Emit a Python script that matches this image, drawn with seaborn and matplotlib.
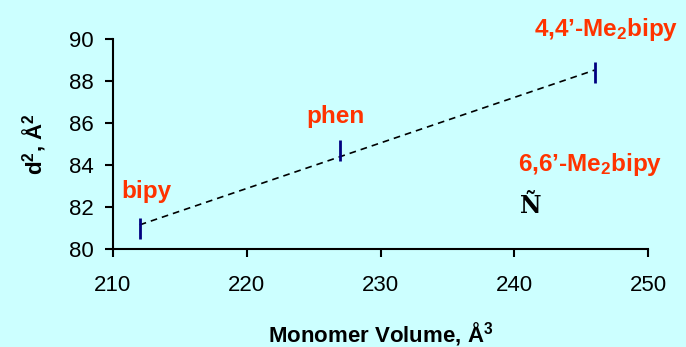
import matplotlib
matplotlib.use("Agg")
import matplotlib.pyplot as plt
import seaborn as sns
import numpy as np
import pandas as pd

# Data
ligands = ["bipy", "phen", "4,4'-Me2bipy"]
volume = [212, 227, 246]
d2 = [81.0, 84.67, 88.4]
d2_err = [0.5, 0.5, 0.5]
xticks = [210, 220, 230, 240, 250]
yticks = [80, 82, 84, 86, 88, 90]

bg = "#CCFFFF"
red = "#FF3300"

sns.set_theme(style="ticks")
plt.rcParams['font.family'] = ['Liberation Sans', 'DejaVu Sans']
plt.rcParams['mathtext.fontset'] = 'custom'
plt.rcParams['mathtext.rm'] = 'Liberation Sans'
plt.rcParams['mathtext.bf'] = 'Liberation Sans:bold'
plt.rcParams['mathtext.it'] = 'Liberation Sans:italic'

fig = plt.figure(figsize=(6.86, 3.47), dpi=100, facecolor=bg)
ax = fig.add_axes([0.1647, 0.2824, 0.78, 0.6052])
ax.set_facecolor(bg)

df = pd.DataFrame({"volume": volume, "d2": d2})
sns.regplot(data=df, x="volume", y="d2", ax=ax, scatter=False, ci=None,
            line_kws=dict(color="black", lw=1.2, ls=(0, (4, 3))))
ax.errorbar(volume, d2, yerr=d2_err, fmt="none", ecolor="#000080",
            elinewidth=2, capsize=0, zorder=3)

ax.set_xlim(210, 250)
ax.set_ylim(80, 90)
ax.set_xticks(xticks)
ax.set_yticks(yticks)
sns.despine(ax=ax)
for s in ["left", "bottom"]:
    ax.spines[s].set_color("black")
    ax.spines[s].set_linewidth(1.5)
ax.tick_params(axis="both", direction="out", length=6, width=1.5,
               labelsize=16, colors="black")
ax.tick_params(axis="x", pad=13)
ax.tick_params(axis="y", pad=8)

ax.set_xlabel(r"Monomer Volume, Å$^\mathbf{3}$", fontsize=16, fontweight="bold",
              labelpad=17, color="black")
ax.set_ylabel(r"d$^\mathbf{2}$, Å$^\mathbf{2}$", fontsize=16, fontweight="bold",
              labelpad=15, color="black")

tk = dict(color=red, fontsize=17.5, fontweight="bold", transform=ax.transData)
ax.text(212.5, 82.74, "bipy", ha="center", va="center", **tk)
ax.text(226.6, 86.33, "phen", ha="center", va="center", **tk)
ax.text(246.86, 90.45, "4,4’-Me$_\\mathbf{2}$bipy", ha="center", va="center", clip_on=False, **tk)
ax.text(245.66, 84.02, "6,6’-Me$_\\mathbf{2}$bipy", ha="center", va="center", **tk)
ax.text(241.2, 82.05, "Ñ", ha="center", va="center", fontsize=17, fontweight="bold",
        family="DejaVu Serif", color="black")

fig.savefig("out.png", dpi=100, facecolor=bg)
